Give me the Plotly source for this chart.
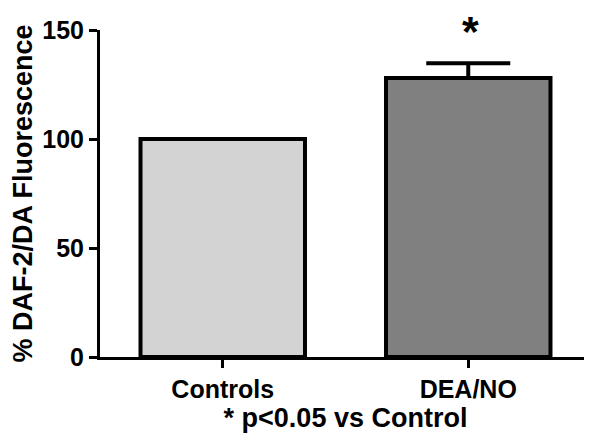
import plotly.graph_objects as go

categories = ["Controls", "DEA/NO"]
values = [100, 128]
err_plus = [0, 6.7]
err_minus = [0, 0]
colors = ["#d3d3d3", "#808080"]
y_ticks = [0, 50, 100, 150]

FONT = "Liberation Sans, Arial, sans-serif"

fig = go.Figure()
fig.add_trace(go.Bar(
    x=categories, y=values, width=0.67,
    marker=dict(color=colors, line=dict(color="black", width=4)),
    error_y=dict(type="data", symmetric=False, array=err_plus, arrayminus=err_minus,
                 color="black", thickness=4, width=42),
))
fig.add_annotation(x="DEA/NO", y=150, xref="x", yref="y", text="<b>*</b>",
                   showarrow=False, yanchor="middle", yshift=-1, xshift=2,
                   font=dict(family=FONT, size=43, color="black"))

# page body has an 8px default margin; compensate so the plot sits where the reference has it
fig.update_layout(
    width=584, height=428,
    margin=dict(l=92, r=1, t=22, b=79),
    plot_bgcolor="white", paper_bgcolor="white",
    showlegend=False,
    font=dict(family=FONT, color="black"),
    xaxis=dict(
        range=[-0.5, 1.5], showline=True, linecolor="black", linewidth=3,
        ticks="outside", ticklen=8, tickwidth=3, tickcolor="black",
        tickfont=dict(family=FONT, size=25, color="black", weight="bold"),
        title=dict(text="<b>* p<0.05 vs Control</b>", standoff=4,
                   font=dict(family=FONT, size=27, color="black")),
        showgrid=False, zeroline=False,
    ),
    yaxis=dict(
        range=[0, 150], tickvals=y_ticks, showline=True, linecolor="black", linewidth=3,
        ticks="outside", ticklen=8, tickwidth=3, tickcolor="black",
        tickfont=dict(family=FONT, size=25, color="black", weight="bold"),
        title=dict(text="<b>% DAF-2/DA Fluorescence</b>", standoff=6,
                   font=dict(family=FONT, size=27, color="black")),
        showgrid=False, zeroline=False,
    ),
)
fig.write_html("out.html")
